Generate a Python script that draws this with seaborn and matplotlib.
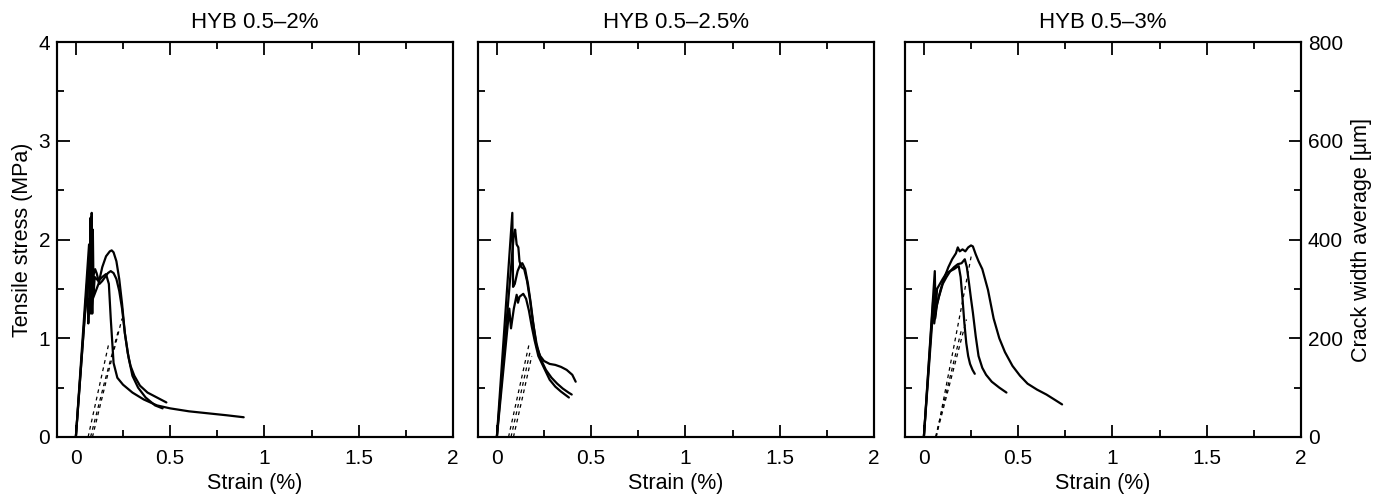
import numpy as np
import pandas as pd
import matplotlib
matplotlib.use("Agg")
import matplotlib.pyplot as plt
from matplotlib.ticker import MultipleLocator, FuncFormatter
import seaborn as sns

# ---------------- data ----------------
titles = ["HYB 0.5\u20132%", "HYB 0.5\u20132.5%", "HYB 0.5\u20133%"]
x_ticks = [0, 0.5, 1, 1.5, 2]

# Panel 1 : stress-strain (MPa vs %)
p1_c1_strain = [0.0, 0.070, 0.074, 0.078, 0.081, 0.084, 0.087, 0.090, 0.094, 0.10, 0.12, 0.14, 0.16, 0.175, 0.185, 0.20, 0.22, 0.25, 0.30, 0.36, 0.43, 0.50, 0.60, 0.70, 0.80, 0.89]
p1_c1_stress = [0.0, 1.95, 1.30, 2.22, 1.40, 2.27, 1.25, 2.10, 1.45, 1.62, 1.58, 1.62, 1.65, 1.55, 1.20, 0.75, 0.60, 0.53, 0.45, 0.38, 0.32, 0.29, 0.26, 0.24, 0.22, 0.20]
p1_c2_strain = [0.0, 0.060, 0.066, 0.072, 0.080, 0.090, 0.10, 0.12, 0.14, 0.16, 0.18, 0.19, 0.20, 0.215, 0.23, 0.245, 0.26, 0.275, 0.29, 0.31, 0.34, 0.38, 0.43, 0.48]
p1_c2_stress = [0.0, 1.55, 1.15, 1.40, 1.25, 1.40, 1.45, 1.55, 1.72, 1.83, 1.88, 1.89, 1.87, 1.78, 1.60, 1.35, 1.05, 0.85, 0.72, 0.62, 0.52, 0.45, 0.40, 0.35]
p1_c3_strain = [0.0, 0.065, 0.075, 0.085, 0.095, 0.102, 0.11, 0.125, 0.14, 0.155, 0.17, 0.185, 0.20, 0.215, 0.23, 0.245, 0.26, 0.28, 0.30, 0.33, 0.37, 0.42, 0.46]
p1_c3_stress = [0.0, 1.70, 1.35, 1.55, 1.65, 1.70, 1.66, 1.55, 1.58, 1.62, 1.66, 1.68, 1.66, 1.60, 1.48, 1.30, 1.05, 0.80, 0.62, 0.50, 0.40, 0.32, 0.29]
# Panel 1 : crack width (um vs %)
p1_d1_strain = [0.065, 0.12, 0.175]
p1_d1_crack = [0, 95, 190]
p1_d2_strain = [0.078, 0.15, 0.225]
p1_d2_crack = [0, 108, 215]
p1_d3_strain = [0.088, 0.165, 0.245]
p1_d3_crack = [0, 120, 240]

# Panel 2
p2_c1_strain = [0.0, 0.082, 0.086, 0.095, 0.11, 0.125, 0.135, 0.15, 0.165, 0.18, 0.195, 0.21, 0.23, 0.25, 0.28, 0.31, 0.34, 0.37, 0.40, 0.418]
p2_c1_stress = [0.0, 2.27, 1.52, 1.55, 1.68, 1.75, 1.76, 1.70, 1.55, 1.35, 1.12, 0.92, 0.82, 0.77, 0.74, 0.73, 0.71, 0.68, 0.63, 0.56]
p2_c2_strain = [0.0, 0.090, 0.097, 0.105, 0.114, 0.12, 0.13, 0.145, 0.16, 0.175, 0.19, 0.21, 0.23, 0.26, 0.29, 0.32, 0.35, 0.38, 0.397]
p2_c2_stress = [0.0, 2.05, 2.10, 1.95, 1.92, 1.78, 1.72, 1.70, 1.58, 1.40, 1.18, 0.95, 0.80, 0.68, 0.60, 0.54, 0.49, 0.45, 0.43]
p2_c3_strain = [0.0, 0.066, 0.075, 0.09, 0.105, 0.112, 0.12, 0.14, 0.155, 0.17, 0.185, 0.20, 0.22, 0.25, 0.28, 0.31, 0.34, 0.382]
p2_c3_stress = [0.0, 1.30, 1.10, 1.30, 1.44, 1.36, 1.42, 1.45, 1.40, 1.28, 1.12, 0.98, 0.82, 0.70, 0.58, 0.51, 0.46, 0.40]
p2_d1_strain = [0.062, 0.117, 0.172]
p2_d1_crack = [0, 95, 190]
p2_d2_strain = [0.075, 0.127, 0.178]
p2_d2_crack = [0, 88, 176]
p2_d3_strain = [0.088, 0.137, 0.185]
p2_d3_crack = [0, 82, 164]

# Panel 3
p3_c1_strain = [0.0, 0.055, 0.06, 0.07, 0.09, 0.11, 0.13, 0.15, 0.17, 0.18, 0.19, 0.205, 0.22, 0.235, 0.25, 0.26, 0.275, 0.29, 0.31, 0.34, 0.37, 0.40, 0.43, 0.47, 0.51, 0.55, 0.60, 0.65, 0.70, 0.733]
p3_c1_stress = [0.0, 1.45, 1.20, 1.35, 1.50, 1.62, 1.72, 1.80, 1.86, 1.92, 1.88, 1.90, 1.88, 1.92, 1.94, 1.93, 1.85, 1.78, 1.70, 1.49, 1.20, 1.00, 0.86, 0.72, 0.62, 0.54, 0.48, 0.43, 0.37, 0.33]
p3_c2_strain = [0.0, 0.05, 0.055, 0.065, 0.08, 0.10, 0.12, 0.14, 0.16, 0.18, 0.20, 0.217, 0.228, 0.24, 0.25, 0.26, 0.275, 0.29, 0.31, 0.33, 0.36, 0.40, 0.438]
p3_c2_stress = [0.0, 1.40, 1.15, 1.30, 1.42, 1.55, 1.62, 1.68, 1.72, 1.75, 1.76, 1.80, 1.72, 1.55, 1.40, 1.26, 1.02, 0.82, 0.70, 0.63, 0.56, 0.50, 0.45]
p3_c3_strain = [0.0, 0.058, 0.062, 0.07, 0.085, 0.10, 0.12, 0.14, 0.16, 0.175, 0.185, 0.195, 0.205, 0.215, 0.225, 0.235, 0.245, 0.258, 0.27]
p3_c3_stress = [0.0, 1.68, 1.25, 1.50, 1.55, 1.60, 1.66, 1.68, 1.70, 1.72, 1.73, 1.62, 1.40, 1.15, 0.95, 0.82, 0.74, 0.68, 0.64]
p3_d1_strain = [0.062, 0.131, 0.200]
p3_d1_crack = [0, 109, 218]
p3_d2_strain = [0.064, 0.145, 0.226]
p3_d2_crack = [0, 119, 238]
p3_d3_strain = [0.066, 0.160, 0.253]
p3_d3_crack = [0, 185, 370]

panels = [
    ([(p1_c1_strain, p1_c1_stress), (p1_c2_strain, p1_c2_stress), (p1_c3_strain, p1_c3_stress)],
     [(p1_d1_strain, p1_d1_crack), (p1_d2_strain, p1_d2_crack), (p1_d3_strain, p1_d3_crack)]),
    ([(p2_c1_strain, p2_c1_stress), (p2_c2_strain, p2_c2_stress), (p2_c3_strain, p2_c3_stress)],
     [(p2_d1_strain, p2_d1_crack), (p2_d2_strain, p2_d2_crack), (p2_d3_strain, p2_d3_crack)]),
    ([(p3_c1_strain, p3_c1_stress), (p3_c2_strain, p3_c2_stress), (p3_c3_strain, p3_c3_stress)],
     [(p3_d1_strain, p3_d1_crack), (p3_d2_strain, p3_d2_crack), (p3_d3_strain, p3_d3_crack)]),
]

# ---------------- style ----------------
sns.set_theme(style="ticks")
plt.rcParams["font.family"] = ["Liberation Sans", "DejaVu Sans"]
plt.rcParams.update({
    "xtick.direction": "in", "ytick.direction": "in",
    "xtick.major.size": 9, "ytick.major.size": 9,
    "xtick.minor.size": 5, "ytick.minor.size": 5,
    "xtick.major.width": 1.3, "ytick.major.width": 1.3,
    "xtick.minor.width": 1.3, "ytick.minor.width": 1.3,
    "xtick.major.pad": 9, "ytick.major.pad": 5,
    "axes.linewidth": 1.5, "axes.edgecolor": "black",
    "xtick.color": "black", "ytick.color": "black",
    "text.color": "black", "axes.labelcolor": "black",
    "xtick.labelsize": 15, "ytick.labelsize": 15,
})

fig = plt.figure(figsize=(13.86, 4.95), dpi=100)
lefts = [57, 478, 905]
fmt = FuncFormatter(lambda v, p: f"{v:g}")

for i, (curves, dashes) in enumerate(panels):
    ax = fig.add_axes([lefts[i] / 1386, 1 - 437 / 495, 396 / 1386, 395 / 495])
    for s, y in curves:
        df = pd.DataFrame({"strain": s, "stress": y})
        sns.lineplot(data=df, x="strain", y="stress", sort=False, estimator=None,
                     color="black", lw=1.6, ax=ax)
    ax.set_xlim(-0.1, 2)
    ax.set_ylim(0, 4)
    ax.xaxis.set_major_locator(MultipleLocator(0.5))
    ax.xaxis.set_minor_locator(MultipleLocator(0.25))
    ax.yaxis.set_major_locator(MultipleLocator(1))
    ax.yaxis.set_minor_locator(MultipleLocator(0.5))
    ax.xaxis.set_major_formatter(fmt)
    ax.tick_params(which="both", top=True, right=True, left=True, bottom=True)
    ax.set_xlabel("Strain (%)", fontsize=15.5, labelpad=3)
    ax.set_title(titles[i], fontsize=16, pad=10)
    if i == 0:
        ax.set_ylabel("Tensile stress (MPa)", fontsize=15.5, labelpad=4)
    else:
        ax.set_ylabel("")
        ax.tick_params(labelleft=False)

    ax2 = ax.twinx()
    for s, c in dashes:
        df = pd.DataFrame({"strain": s, "crack": c})
        sns.lineplot(data=df, x="strain", y="crack", sort=False, estimator=None,
                     color="black", lw=0.9, linestyle=(0, (3, 3)), ax=ax2)
    ax2.set_ylim(0, 800)
    ax2.yaxis.set_major_locator(MultipleLocator(200))
    ax2.yaxis.set_minor_locator(MultipleLocator(100))
    if i == 2:
        ax2.set_ylabel("Crack width average [\u00b5m]", fontsize=15.5, labelpad=6)
        ax.tick_params(right=False, which="both")
    else:
        ax2.set_ylabel("")
        ax2.tick_params(which="both", right=False, labelright=False)

fig.savefig("out.png", dpi=100)
